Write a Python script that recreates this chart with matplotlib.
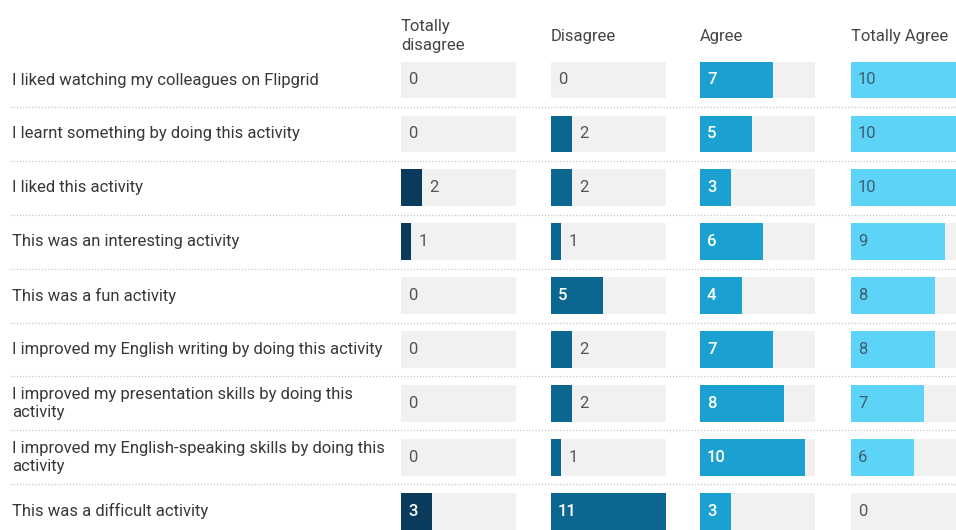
import numpy as np
import matplotlib.pyplot as plt

plt.rcParams['font.family'] = ['Roboto', 'DejaVu Sans']

# statements (one row each) and the four answer columns
statements = [
    "I liked watching my colleagues on Flipgrid",
    "I learnt something by doing this activity",
    "I liked this activity",
    "This was an interesting activity",
    "This was a fun activity",
    "I improved my English writing by doing this activity",
    "I improved my presentation skills by doing this\nactivity",
    "I improved my English-speaking skills by doing this\nactivity",
    "This was a difficult activity",
]
answers = ["Totally\ndisagree", "Disagree", "Agree", "Totally Agree"]

totally_disagree = [0, 0, 2, 1, 0, 0, 0, 0, 3]
disagree = [0, 2, 2, 1, 5, 2, 2, 1, 11]
agree = [7, 5, 3, 6, 4, 7, 8, 10, 3]
totally_agree = [10, 10, 10, 9, 8, 8, 7, 6, 0]

counts = [totally_disagree, disagree, agree, totally_agree]
colors = ["#0a3a5c", "#0b6690", "#1ba1cf", "#5ed3f8"]
max_count = 11

W, H = 956, 530
fig = plt.figure(figsize=(W / 100, H / 100), dpi=100)

fs = 12
n = len(statements)
rows = np.arange(n)
row_px = 53.9
top_px = 80 - row_px / 2
ax_bottom = 1 - (top_px + n * row_px) / H
ax_height = n * row_px / H

# background axes for statement text and dotted separators
bg = fig.add_axes([10 / W, ax_bottom, 946 / W, ax_height])
bg.set_xlim(0, 1)
bg.set_ylim(n - 0.5, -0.5)
bg.axis("off")
for i, s in enumerate(statements):
    bg.text(0.002, rows[i], s, va="center", ha="left", fontsize=fs,
            color="#383838", linespacing=1.3)
for y in rows[:-1] + 0.5:
    bg.axhline(y, color="#c8c8c8", lw=0.9, ls=(0, (1, 1.5)))

col_left = [401, 551, 700, 851]
col_w = 115
for j, (vals, c) in enumerate(zip(counts, colors)):
    ax = fig.add_axes([col_left[j] / W, ax_bottom, col_w / W, ax_height])
    ax.set_xlim(0, max_count)
    ax.set_ylim(n - 0.5, -0.5)
    ax.axis("off")
    ax.barh(rows, [max_count] * n, height=0.68, color="#f1f1f1")
    ax.barh(rows, vals, height=0.68, color=c)
    for i, v in enumerate(vals):
        if v >= 3:
            if j == 3:
                tc, fw = "#3d5f70", "normal"
            else:
                tc, fw = "white", "medium"
            ax.annotate(str(v), (0, rows[i]), xytext=(5, 0),
                        textcoords="offset points", va="center",
                        fontsize=fs, color=tc, fontweight=fw)
        else:
            ax.annotate(str(v), (v, rows[i]), xytext=(5, 0),
                        textcoords="offset points", va="center",
                        fontsize=fs, color="#555555")
    fig.text(col_left[j] / W, 1 - 36 / H, answers[j], va="center",
             ha="left", fontsize=fs, color="#444444", linespacing=1.3)

fig.savefig("out.png", dpi=100)
